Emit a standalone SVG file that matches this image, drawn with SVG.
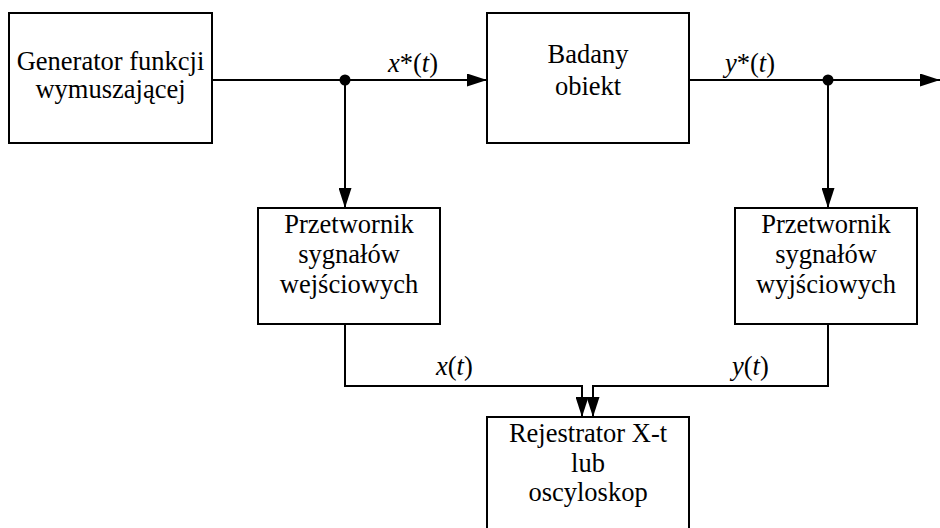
<svg xmlns="http://www.w3.org/2000/svg" width="940" height="528" viewBox="0 0 940 528" font-family="'Liberation Serif', 'Times New Roman', serif" font-size="26.5">
  <style>
    .box { fill: #ffffff; stroke: #000000; stroke-width: 2; }
    .wire { fill: none; stroke: #000000; stroke-width: 2; }
    .lbl { text-anchor: middle; }
    .it { font-style: italic; }
  </style>
  <defs>
    <!-- solid triangular arrowhead shared by all connectors -->
    <marker id="arrow" viewBox="0 0 20 13" refX="20" refY="6.5" markerWidth="20" markerHeight="13" markerUnits="userSpaceOnUse" orient="auto">
      <path d="M0,0 L20,6.5 L0,13 Z" fill="#000000"/>
    </marker>
  </defs>
  <rect width="940" height="528" fill="#ffffff"/>

  <g id="connectors">
    <!-- generator -> object under test -->
    <line class="wire" x1="212" y1="80" x2="487" y2="80" marker-end="url(#arrow)"/>
    <!-- object output -->
    <line class="wire" x1="689" y1="80" x2="940" y2="80" marker-end="url(#arrow)"/>
    <!-- taps down to the converters -->
    <line class="wire" x1="345" y1="80" x2="345" y2="208" marker-end="url(#arrow)"/>
    <line class="wire" x1="828" y1="80" x2="828" y2="208" marker-end="url(#arrow)"/>
    <!-- converters -> recorder -->
    <polyline class="wire" points="345,324 345,386 582,386 582,417" marker-end="url(#arrow)"/>
    <polyline class="wire" points="828,324 828,386 593,386 593,417" marker-end="url(#arrow)"/>
    <!-- junction dots -->
    <circle cx="345" cy="80" r="5.5" fill="#000000"/>
    <circle cx="828" cy="80" r="5.5" fill="#000000"/>
    <!-- signal labels -->
    <text x="388" y="72"><tspan class="it">x</tspan>*(<tspan class="it">t</tspan>)</text>
    <text x="725" y="72"><tspan class="it">y</tspan>*(<tspan class="it">t</tspan>)</text>
    <text x="436" y="375"><tspan class="it">x</tspan>(<tspan class="it">t</tspan>)</text>
    <text x="732" y="375"><tspan class="it">y</tspan>(<tspan class="it">t</tspan>)</text>
  </g>

  <g id="generator">
    <rect class="box" x="9" y="13" width="203" height="130"/>
    <text class="lbl" x="110.5" y="70">Generator funkcji</text>
    <text class="lbl" x="110.5" y="98">wymuszającej</text>
  </g>

  <g id="badany-obiekt">
    <rect class="box" x="487" y="13" width="202" height="130"/>
    <text class="lbl" x="588" y="63">Badany</text>
    <text class="lbl" x="588" y="95">obiekt</text>
  </g>

  <g id="przetwornik-wej">
    <rect class="box" x="258" y="208" width="182" height="116"/>
    <text class="lbl" x="349" y="233">Przetwornik</text>
    <text class="lbl" x="349" y="263">sygnałów</text>
    <text class="lbl" x="349" y="293">wejściowych</text>
  </g>

  <g id="przetwornik-wyj">
    <rect class="box" x="735" y="208" width="182" height="116"/>
    <text class="lbl" x="826" y="233">Przetwornik</text>
    <text class="lbl" x="826" y="263">sygnałów</text>
    <text class="lbl" x="826" y="293">wyjściowych</text>
  </g>

  <g id="rejestrator">
    <rect class="box" x="487" y="417" width="202" height="130"/>
    <text class="lbl" x="588" y="442">Rejestrator X-t</text>
    <text class="lbl" x="588" y="472">lub</text>
    <text class="lbl" x="588" y="501">oscyloskop</text>
  </g>
</svg>
